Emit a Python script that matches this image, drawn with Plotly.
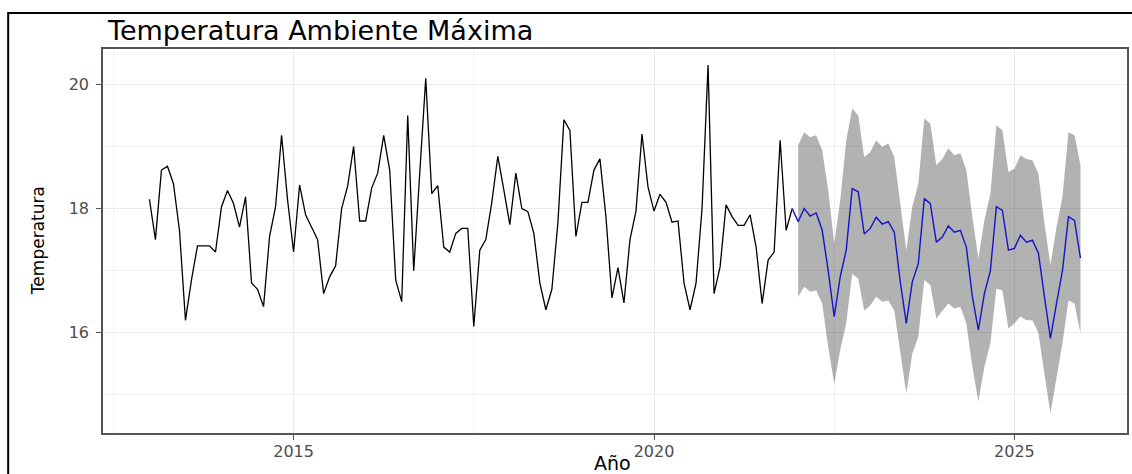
import numpy as np
import plotly.graph_objects as go

# ---- data ----
start_year = 2013  # monthly series, January 2013
observed = [
    18.15, 17.50, 18.62, 18.68, 18.40, 17.65, 16.20, 16.85, 17.40, 17.40, 17.40, 17.30,
    18.03, 18.29, 18.08, 17.70, 18.19, 16.80, 16.70, 16.42, 17.55, 18.03, 19.18, 18.14,
    17.30, 18.38, 17.90, 17.70, 17.50, 16.63, 16.90, 17.08, 18.00, 18.36, 19.00, 17.80,
    17.80, 18.33, 18.57, 19.18, 18.62, 16.85, 16.50, 19.50, 17.00, 18.57, 20.10, 18.24,
    18.37, 17.38, 17.30, 17.60, 17.68, 17.68, 16.10, 17.33, 17.50, 18.10, 18.84, 18.30,
    17.74, 18.57, 18.00, 17.95, 17.60, 16.80, 16.37, 16.70, 17.77, 19.43, 19.26, 17.55,
    18.10, 18.10, 18.62, 18.80, 17.87, 16.56, 17.05, 16.48, 17.50, 17.96, 19.20, 18.35,
    17.96, 18.23, 18.10, 17.78, 17.80, 16.80, 16.37, 16.80, 18.00, 20.31, 16.63, 17.06,
    18.06, 17.87, 17.73, 17.73, 17.90, 17.38, 16.47, 17.17, 17.30, 19.10, 17.65, 18.00,
]
forecast_mean = [
    17.79, 18.00, 17.88, 17.93, 17.65, 17.00, 16.26, 16.90, 17.33, 18.32, 18.27, 17.59,
    17.68, 17.86, 17.75, 17.79, 17.62, 16.82, 16.15, 16.82, 17.11, 18.16, 18.08, 17.46,
    17.54, 17.72, 17.62, 17.65, 17.38, 16.58, 16.04, 16.63, 17.00, 18.03, 17.97, 17.33,
    17.36, 17.57, 17.46, 17.49, 17.28, 16.58, 15.91, 16.47, 17.00, 17.87, 17.81, 17.20,
]
forecast_upper = [
    19.02, 19.23, 19.15, 19.18, 18.94, 18.30, 17.44, 18.13, 19.10, 19.61, 19.50, 18.83,
    18.91, 19.10, 18.99, 19.05, 18.83, 18.05, 17.33, 18.03, 18.40, 19.45, 19.37, 18.70,
    18.80, 18.97, 18.86, 18.89, 18.62, 17.87, 17.20, 17.81, 18.24, 19.34, 19.26, 18.59,
    18.64, 18.86, 18.80, 18.78, 18.56, 17.76, 17.09, 17.70, 18.19, 19.23, 19.18, 18.70,
]
forecast_lower = [
    16.58, 16.74, 16.66, 16.68, 16.47, 15.77, 15.18, 15.72, 16.15, 16.95, 16.87, 16.36,
    16.44, 16.58, 16.50, 16.52, 16.36, 15.72, 15.02, 15.66, 15.93, 16.85, 16.77, 16.23,
    16.34, 16.47, 16.39, 16.42, 16.15, 15.45, 14.89, 15.45, 15.83, 16.71, 16.68, 16.07,
    16.15, 16.26, 16.20, 16.20, 15.99, 15.34, 14.70, 15.29, 15.83, 16.52, 16.47, 15.99,
]
x_ticks = [2015, 2020, 2025]
y_ticks = [16, 18, 20]

title_text = "Temperatura Ambiente Máxima"
x_title = "Año"
y_title = "Temperatura"

# ---- time index (decimal years, like an R ts) ----
n_obs = len(observed)
t_obs = start_year + np.arange(n_obs) / 12.0
t_fc = start_year + (n_obs + np.arange(len(forecast_mean))) / 12.0

W, H = 1132, 474
L, R, T, B = 103, 3, 49, 41
pw, ph = W - L - R, H - T - B

fig = go.Figure()

# prediction interval ribbon
fig.add_trace(go.Scatter(
    x=np.concatenate([t_fc, t_fc[::-1]]),
    y=np.concatenate([forecast_upper, forecast_lower[::-1]]),
    fill="toself", fillcolor="rgba(0,0,0,0.30)",
    line=dict(width=0), mode="lines", hoverinfo="skip", showlegend=False,
))
# observed series
fig.add_trace(go.Scatter(
    x=t_obs, y=observed, mode="lines",
    line=dict(color="black", width=1.3), showlegend=False,
))
# forecast mean (joined to last observation)
fig.add_trace(go.Scatter(
    x=np.concatenate([t_obs[-1:], t_fc]),
    y=np.concatenate([observed[-1:], forecast_mean]),
    mode="lines", line=dict(color="#1414C8", width=1.4), showlegend=False,
))

tick_font = dict(family="DejaVu Sans, sans-serif", size=16, color="#4D4D4D")
axis_common = dict(
    showgrid=True, gridcolor="#EBEBEB", gridwidth=1,
    zeroline=False, showline=True, linecolor="#555555", linewidth=1.5, mirror=True,
    ticks="outside", ticklen=5, tickwidth=1, tickcolor="#555555",
    tickfont=tick_font,
)

fig.update_xaxes(
    range=[2012.356, 2026.562], tickvals=x_ticks, ticktext=[str(v) for v in x_ticks],
    minor=dict(dtick=2.5, tick0=2012.5, showgrid=True, gridcolor="#F0F0F0", gridwidth=0.8, ticks=""),
    ticklabelstandoff=-2,
    **axis_common,
)
fig.update_yaxes(
    range=[14.385, 20.57], tickvals=y_ticks, ticktext=[str(v) for v in y_ticks],
    minor=dict(dtick=1, tick0=15, showgrid=True, gridcolor="#F0F0F0", gridwidth=0.8, ticks=""),
    ticklabelstandoff=4,
    **axis_common,
)

fig.update_layout(
    width=W, height=H,
    margin=dict(l=L, r=R, t=T, b=B, pad=0),
    paper_bgcolor="white", plot_bgcolor="white",
    title=dict(
        text=title_text, x=108 / W, xref="container", xanchor="left",
        y=1 - 31 / H, yref="container", yanchor="middle",
        font=dict(family="DejaVu Sans, sans-serif", size=27, color="black"),
    ),
    annotations=[
        dict(text=y_title, textangle=-90, xref="paper", yref="paper",
             x=(38 - L) / pw, y=0.5, xanchor="center", yanchor="middle", showarrow=False,
             font=dict(family="DejaVu Sans, sans-serif", size=17, color="black")),
        dict(text=x_title, xref="paper", yref="paper",
             x=(613 - L) / pw, y=(H - B - 463) / ph, xanchor="center", yanchor="middle", showarrow=False,
             font=dict(family="DejaVu Sans, sans-serif", size=19, color="black")),
    ],
    shapes=[
        dict(type="rect", xref="paper", yref="paper",
             x0=(8 - L) / pw, x1=(W + 10 - L) / pw,
             y0=(H - B - (H + 10)) / ph, y1=(H - B - 13) / ph,
             line=dict(color="black", width=2), fillcolor="rgba(0,0,0,0)", layer="above"),
    ],
)

fig.write_html("out.html")
